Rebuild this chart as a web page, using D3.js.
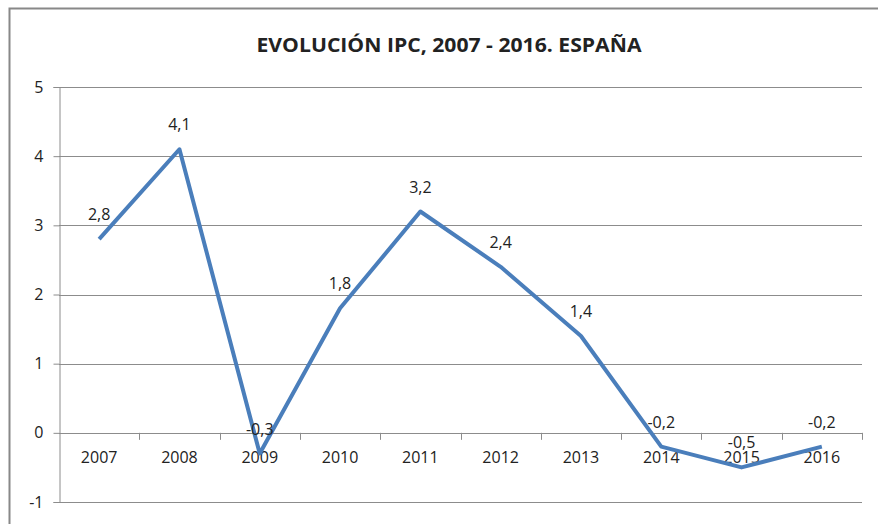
<!DOCTYPE html>
<html>
<head>
<meta charset="utf-8">
<script src="https://cdn.jsdelivr.net/npm/d3@7"></script>
<style>
  body { margin: 0; background: #fff; }
  svg text { font-family: "Open Sans", "Liberation Sans", sans-serif; fill: #222; }
</style>
</head>
<body>
<svg id="chart" width="878" height="524"></svg>
<script>
var years = ["2007", "2008", "2009", "2010", "2011", "2012", "2013", "2014", "2015", "2016"];
var ipc = [2.8, 4.1, -0.3, 1.8, 3.2, 2.4, 1.4, -0.2, -0.5, -0.2];
var yTicks = [-1, 0, 1, 2, 3, 4, 5];

var plotLeft = 59, plotRight = 862, plotTop = 87, plotBottom = 502;

var svg = d3.select("#chart");

// chart frame
svg.append("rect")
  .attr("x", 9.5).attr("y", 8.5)
  .attr("width", 900).attr("height", 600)
  .attr("fill", "#fff")
  .attr("stroke", "#888").attr("stroke-width", 2);

svg.append("text")
  .attr("x", 449).attr("y", 52)
  .attr("text-anchor", "middle")
  .attr("font-size", "19px")
  .attr("font-weight", "bold")
  .attr("textLength", 385)
  .attr("lengthAdjust", "spacingAndGlyphs")
  .text("EVOLUCIÓN IPC, 2007 - 2016. ESPAÑA");

var x = d3.scaleBand().domain(years).range([plotLeft, plotRight]);
var y = d3.scaleLinear().domain([-1, 5]).range([plotBottom, plotTop]);

// gridlines
svg.append("g")
  .selectAll("line")
  .data(yTicks)
  .enter()
  .append("line")
  .attr("x1", plotLeft).attr("x2", plotRight)
  .attr("y1", function(d) { return Math.round(y(d)) + 0.5; })
  .attr("y2", function(d) { return Math.round(y(d)) + 0.5; })
  .attr("stroke", "#8c8c8c");

// y axis
var yAxis = svg.append("g")
  .attr("transform", "translate(" + (plotLeft + 0.5) + ",0)")
  .call(d3.axisLeft(y).tickValues(yTicks).tickSize(6).tickPadding(10)
    .tickFormat(function(d) { return String(d); }));
yAxis.selectAll("path, line").attr("stroke", "#8c8c8c");
yAxis.selectAll("text").attr("font-size", "16px").attr("fill", "#222");

// x axis on zero line
var xAxis = svg.append("g")
  .attr("transform", "translate(0," + (Math.round(y(0)) + 0.5) + ")")
  .call(d3.axisBottom(x).tickSize(0).tickPadding(18));
xAxis.select(".domain").remove();
xAxis.selectAll("text").attr("font-size", "16px").attr("fill", "#222");

// tick marks between categories
svg.append("g")
  .selectAll("line")
  .data(years)
  .enter()
  .append("line")
  .attr("x1", function(d) { return Math.round(x(d) + x.bandwidth()) + 0.5; })
  .attr("x2", function(d) { return Math.round(x(d) + x.bandwidth()) + 0.5; })
  .attr("y1", y(0)).attr("y2", y(0) + 7)
  .attr("stroke", "#8c8c8c");

var line = d3.line()
  .x(function(d, i) { return x(years[i]) + x.bandwidth() / 2; })
  .y(function(d) { return y(d); });

svg.append("path")
  .datum(ipc)
  .attr("d", line)
  .attr("fill", "none")
  .attr("stroke", "#4a7ebb")
  .attr("stroke-width", 4)
  .attr("stroke-linejoin", "round");

// data labels
svg.append("g")
  .selectAll("text")
  .data(ipc)
  .enter()
  .append("text")
  .attr("x", function(d, i) { return x(years[i]) + x.bandwidth() / 2; })
  .attr("y", function(d) { return y(d) - 19; })
  .attr("text-anchor", "middle")
  .attr("font-size", "16px")
  .text(function(d) { return String(d).replace(".", ","); });
</script>
</body>
</html>
